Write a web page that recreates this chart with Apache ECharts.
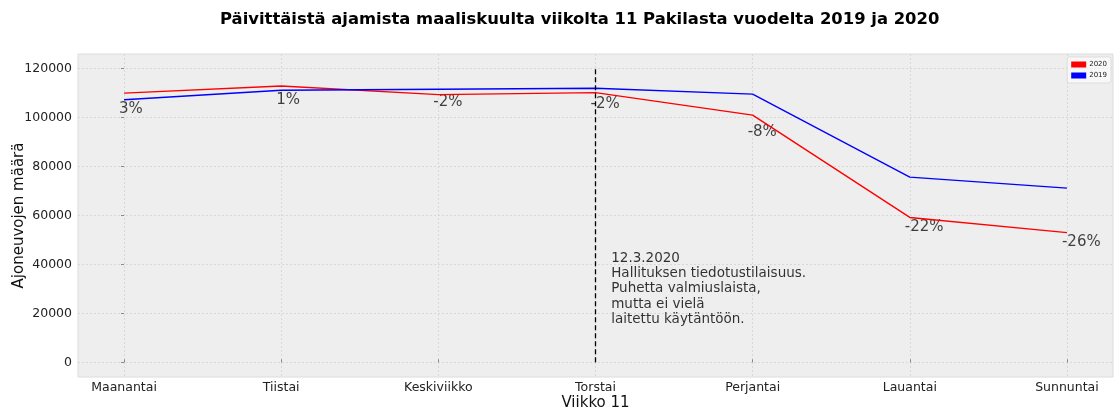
<!DOCTYPE html>
<html>
<head>
<meta charset="utf-8">
<script src="https://cdn.jsdelivr.net/npm/echarts@6/dist/echarts.min.js"></script>
<style>
html,body{margin:0;padding:0;background:#fff;}
#main{width:1114px;height:412px;}
</style>
</head>
<body>
<div id="main"></div>
<script>
var days = ['Maanantai','Tiistai','Keskiviikko','Torstai','Perjantai','Lauantai','Sunnuntai'];
var v2020 = [110000,112900,109400,110200,101000,59200,53000];
var v2019 = [107300,111200,111600,112000,109600,75700,71200];
var pctLabels = ['3%','1%','-2%','-2%','-8%','-22%','-26%'];
var pctLabelY = [103300,107200,106300,105500,94000,55300,49200];
var yTicks = [0,20000,40000,60000,80000,100000,120000];
var noteText = '12.3.2020\nHallituksen tiedotustilaisuus.\nPuhetta valmiuslaista,\nmutta ei vielä\nlaitettu käytäntöön.';
var notePos = [3.1, 45700];

var myChart = echarts.init(document.getElementById('main'));
var font = 'DejaVu Sans';

function pairs(arr){
	return arr.map(function(v,i){ return [i,v]; });
}

var option = {
	animation:false,
	textStyle:{fontFamily:font},
	title:{
		text:'Päivittäistä ajamista maaliskuulta viikolta 11 Pakilasta vuodelta 2019 ja 2020',
		left:215,
		top:7,
		textStyle:{fontFamily:font,fontSize:16.4,fontWeight:'bold',color:'#000'}
	},
	legend:{
		orient:'vertical',
		right:3,
		top:57,
		data:['2020','2019'],
		icon:'rect',
		itemWidth:15,
		itemHeight:6,
		itemGap:4,
		padding:[4,4,4,4],
		backgroundColor:'rgba(255,255,255,0.6)',
		borderColor:'#dddddd',
		borderWidth:1,
		borderRadius:2,
		textStyle:{fontSize:7,color:'#222',padding:[0,0,0,-2]}
	},
	grid:{
		left:78,right:1,top:54,bottom:35,
		outerBoundsMode:'none',
		containLabel:false,
		show:true,
		backgroundColor:'#eeeeee',
		borderColor:'#dcdcdc',
		borderWidth:1
	},
	xAxis:{
		type:'value',
		min:-0.293,
		max:6.293,
		name:'Viikko 11',
		nameLocation:'middle',
		nameGap:19,
		nameMoveOverlap:false,
		nameTextStyle:{fontSize:15,color:'#111'},
		axisLine:{show:false},
		axisTick:{show:true,customValues:[0,1,2,3,4,5,6],length:3,inside:true,lineStyle:{color:'#888'}},
		axisLabel:{customValues:[0,1,2,3,4,5,6],fontSize:12.5,color:'#222',margin:4,
			formatter:function(v){ return days[Math.round(v)]; }},
		splitLine:{show:true,lineStyle:{color:'#d2d2d2',type:[2,2],width:0.8}}
	},
	yAxis:{
		type:'value',
		min:-6000,
		max:126000,
		name:'Ajoneuvojen määrä',
		nameLocation:'middle',
		nameGap:51,
		nameMoveOverlap:false,
		nameTextStyle:{fontSize:15,color:'#111'},
		axisLine:{show:false},
		axisTick:{show:true,customValues:yTicks,length:3,lineStyle:{color:'#888'}},
		axisLabel:{customValues:yTicks,fontSize:12.5,color:'#222',margin:6,
			formatter:function(v){ return String(v); }},
		splitLine:{show:true,lineStyle:{color:'#d2d2d2',type:[2,2],width:0.8}}
	},
	series:[
		{
			name:'2020',type:'line',data:pairs(v2020),
			symbol:'none',lineStyle:{color:'#ff0000',width:1.4},itemStyle:{color:'#ff0000'},
			markLine:{
				silent:true,symbol:'none',
				label:{show:false},
				lineStyle:{color:'#000',type:[5,3],width:1.3},
				data:[[{coord:[3,0]},{coord:[3,120000]}]]
			}
		},
		{
			name:'2019',type:'line',data:pairs(v2019),
			symbol:'none',lineStyle:{color:'#0000ff',width:1.4},itemStyle:{color:'#0000ff'}
		},
		{
			name:'pct',type:'scatter',symbolSize:0,silent:true,
			data:pctLabelY.map(function(v,i){ return {value:[i,v],name:pctLabels[i]}; }),
			label:{show:true,position:[-5,0],align:'left',verticalAlign:'middle',
				fontSize:15,color:'#111',formatter:function(p){ return p.name; }}
		},
		{
			name:'note',type:'scatter',symbolSize:0,silent:true,
			data:[{value:notePos,name:noteText}],
			label:{show:true,position:[0,0],align:'left',verticalAlign:'top',
				fontSize:13.5,lineHeight:15.3,color:'#000',formatter:function(p){ return p.name; }}
		}
	]
};
myChart.setOption(option);
</script>
</body>
</html>
